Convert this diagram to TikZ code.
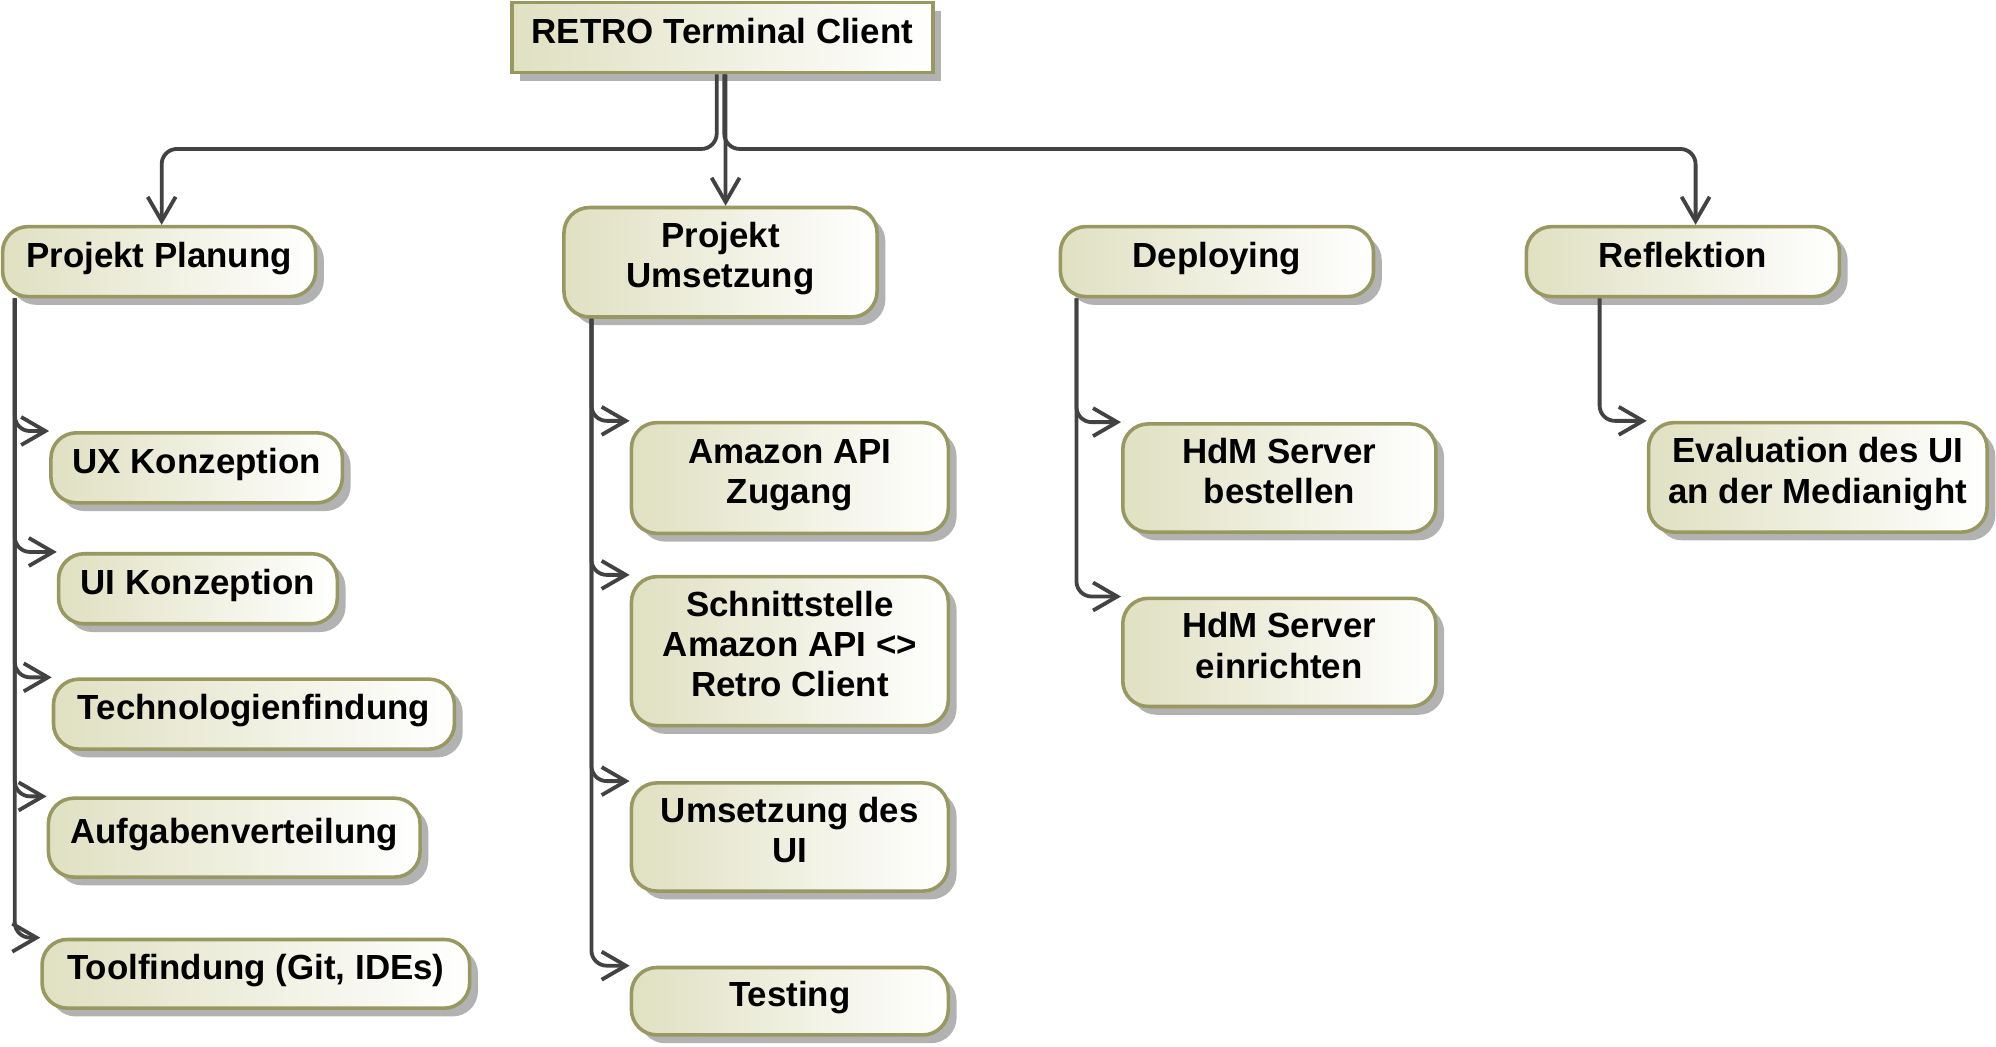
\documentclass[tikz,border=0pt]{standalone}
\usepackage{fontspec}
\setmainfont{Liberation Sans}
\usetikzlibrary{arrows.meta,shadows}
\definecolor{boxfill}{RGB}{224,224,194}
\definecolor{boxline}{RGB}{152,152,96}
\definecolor{edgegray}{RGB}{66,66,66}
\newcommand{\boxtext}[1]{\raisebox{1.1pt}[\height][\depth]{\begin{tabular}{@{}c@{}}#1\end{tabular}}}

\begin{document}
\begin{tikzpicture}[x=0.02cm,y=-0.02cm,
  box/.style={draw=boxline,line width=1.6pt,left color=boxfill,right color=white,
    drop shadow={shadow xshift=0.13cm,shadow yshift=-0.13cm,fill=black!30,opacity=1},
    font=\fontsize{15.6}{18}\selectfont\bfseries,inner sep=0pt},
  task/.style={box,rounded corners=0.4cm,minimum width=4.92cm,minimum height=1.1cm},
  edge/.style={draw=edgegray,line width=1.7pt,rounded corners=0.24cm,
    -{Straight Barb[length=0.38cm,width=0.44cm]}}]
\useasboundingbox (0,0) rectangle (1568,822);
\node[box,minimum width=6.62cm,minimum height=1.1cm] (root) at (567.5,29.5) {\boxtext{RETRO Terminal Client}};
\node[task] (pp) at (125,205.5) {\boxtext{Projekt Planung}};
\node[task,minimum height=1.72cm] (pu) at (566,206) {\boxtext{Projekt\\Umsetzung}};
\node[task] (de) at (956,205.5) {\boxtext{Deploying}};
\node[task] (re) at (1322,205.5) {\boxtext{Reflektion}};
% Projekt Planung
\node[task,minimum width=4.58cm] (ux) at (154.5,367.5) {\boxtext{UX Konzeption}};
\node[task,minimum width=4.38cm] (ui) at (155.5,462.5) {\boxtext{UI Konzeption}};
\node[task,minimum width=6.3cm] (tech) at (199.5,561) {\boxtext{Technologienfindung}};
\node[task,minimum width=5.84cm,minimum height=1.24cm] (auf) at (184,658) {\boxtext{Aufgabenverteilung}};
\node[task,minimum width=6.72cm,minimum height=1.08cm] (tool) at (201,765) {\boxtext{Toolfindung (Git, IDEs)}};
% Projekt Umsetzung
\node[task,minimum width=4.98cm,minimum height=1.74cm] (amz) at (620.5,375.5) {\boxtext{Amazon API\\Zugang}};
\node[task,minimum width=4.98cm,minimum height=2.34cm] (schn) at (620.5,511.5) {\boxtext{Schnittstelle\\Amazon API <>\\Retro Client}};
\node[task,minimum width=4.98cm,minimum height=1.7cm] (umui) at (620.5,657.5) {\boxtext{Umsetzung des\\UI}};
\node[task,minimum width=4.98cm,minimum height=1.06cm] (test) at (620.5,786.5) {\boxtext{Testing}};
% Deploying
\node[task,minimum height=1.7cm] (hdmb) at (1005,375.5) {\boxtext{HdM Server\\bestellen}};
\node[task,minimum height=1.7cm] (hdme) at (1005,512.5) {\boxtext{HdM Server\\einrichten}};
% Reflektion
\node[task,minimum width=5.32cm,minimum height=1.72cm] (eval) at (1428,375) {\boxtext{Evaluation des UI\\an der Medianight}};

\coordinate (bus) at (566,117);
\draw[edge] ([xshift=-0.09cm]root.south) |- ([xshift=0.04cm]pp.north |- bus) -- ([xshift=0.04cm]pp.north);
\draw[edge] ([xshift=0.05cm]root.south) -- ([xshift=0.08cm]pu.north);
\draw[edge] ([xshift=0.03cm]root.south) |- ([xshift=0.2cm]re.north |- bus) -- ([xshift=0.2cm]re.north);

\coordinate (pp-t) at ([xshift=0.22cm]pp.south west);
\coordinate (pu-t) at ([xshift=0.46cm]pu.south west);
\coordinate (de-t) at ([xshift=0.28cm]de.south west);
\coordinate (re-t) at ([xshift=1.18cm]re.south west);
\draw[edge] (pp-t) |- (ux.north west);
\draw[edge] (pp-t) |- (ui.north west);
\draw[edge] (pp-t) |- (tech.north west);
\draw[edge] (pp-t) |- (auf.north west);
\draw[edge] (pp-t) |- (tool.north west);
\draw[edge] (pu-t) |- (amz.north west);
\draw[edge] (pu-t) |- (schn.north west);
\draw[edge] (pu-t) |- (umui.north west);
\draw[edge] (pu-t) |- (test.north west);
\draw[edge] (de-t) |- (hdmb.north west);
\draw[edge] (de-t) |- (hdme.north west);
\draw[edge] (re-t) |- (eval.north west);
\end{tikzpicture}
\end{document}
